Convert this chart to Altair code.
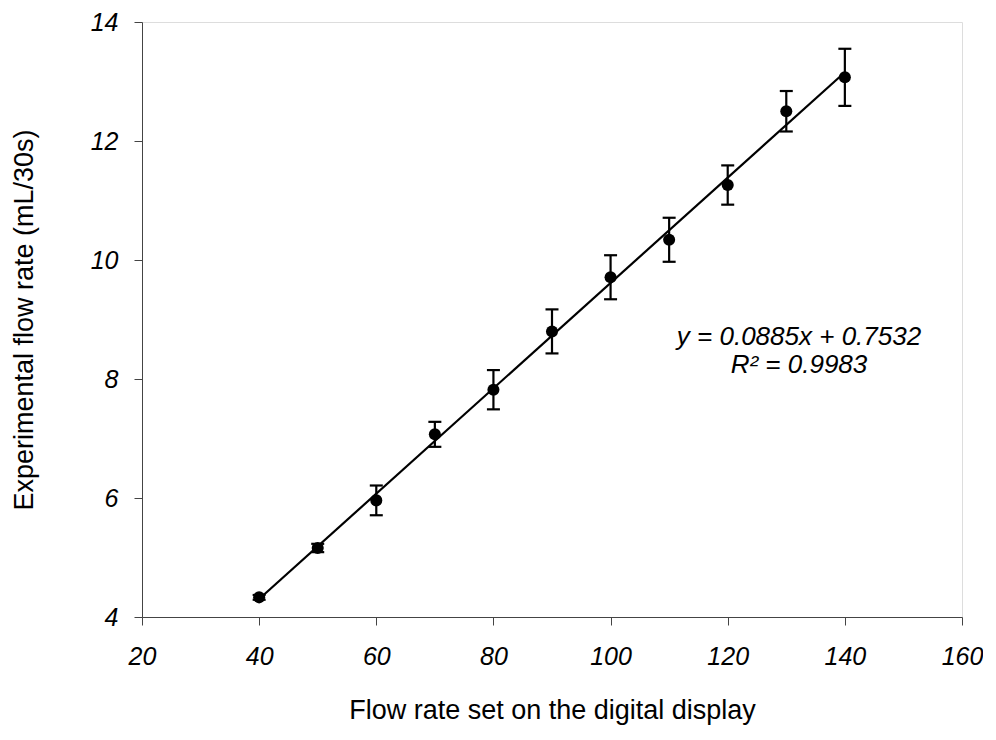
import altair as alt
import pandas as pd

# Data
flow_set = [40, 50, 60, 70, 80, 90, 100, 110, 120, 130, 140]
flow_exp = [4.33, 5.16, 5.96, 7.07, 7.82, 8.80, 9.71, 10.34, 11.26, 12.50, 13.07]
flow_err = [0.04, 0.07, 0.25, 0.21, 0.33, 0.37, 0.37, 0.37, 0.33, 0.34, 0.48]

x_ticks = [20, 40, 60, 80, 100, 120, 140, 160]
y_ticks = [4, 6, 8, 10, 12, 14]

eq_lines = ["y = 0.0885x + 0.7532", "R² = 0.9983"]

df = pd.DataFrame({"x": flow_set, "y": flow_exp, "e": flow_err})
df["lo"] = df["y"] - df["e"]
df["hi"] = df["y"] + df["e"]

FONT = "Liberation Sans"

xs = alt.Scale(domain=[20, 160], nice=False, zero=False)
ys = alt.Scale(domain=[4, 14], nice=False, zero=False)

x_axis = alt.Axis(values=x_ticks, format="d", title="Flow rate set on the digital display",
                  grid=False, tickSize=8, labelPadding=19, titlePadding=28,
                  labelFontSize=25, labelFontStyle="italic", titleFontSize=27,
                  titleFontWeight="normal", labelFont=FONT, titleFont=FONT,
                  domainColor="#444", tickColor="#444", labelColor="black",
                  titleColor="black", labelFlush=False)
y_axis = alt.Axis(values=y_ticks, format="d", title="Experimental flow rate (mL/30s)",
                  grid=False, tickSize=8, labelPadding=16, titlePadding=52,
                  labelFontSize=25, labelFontStyle="italic", titleFontSize=27,
                  titleFontWeight="normal", labelFont=FONT, titleFont=FONT,
                  domainColor="#444", tickColor="#444", labelColor="black",
                  titleColor="black", labelFlush=False)

X = alt.X("x:Q", scale=xs, axis=x_axis)

base = alt.Chart(df)

fit = base.transform_regression("x", "y", method="linear").mark_line(
    color="black", strokeWidth=2.2
).encode(x=X, y=alt.Y("y:Q", scale=ys, axis=y_axis))

bars = base.mark_rule(color="black", strokeWidth=2.2).encode(
    x=X, y=alt.Y("lo:Q", scale=ys, axis=y_axis), y2="hi:Q")

caps_lo = base.mark_tick(color="black", opacity=1, thickness=2.2, size=13, orient="horizontal").encode(
    x=X, y=alt.Y("lo:Q", scale=ys, axis=y_axis))
caps_hi = base.mark_tick(color="black", opacity=1, thickness=2.2, size=13, orient="horizontal").encode(
    x=X, y=alt.Y("hi:Q", scale=ys, axis=y_axis))

pts = base.mark_circle(color="black", opacity=1, size=145).encode(
    x=X, y=alt.Y("y:Q", scale=ys, axis=y_axis))

eq_df = pd.DataFrame({"t": ["\n".join(eq_lines)]})
eq = alt.Chart(eq_df).mark_text(font=FONT, fontSize=26, fontStyle="italic",
                                color="black", align="center", baseline="middle",
                                lineBreak="\n", lineHeight=28).encode(
    text="t:N",
    x=alt.value(657),
    y=alt.value(315),
)

chart = alt.layer(fit, bars, caps_lo, caps_hi, pts, eq).properties(
    width=820, height=595,
    padding={"left": 2, "top": 2, "right": 0, "bottom": 6},
).configure_view(stroke="black", strokeWidth=2).configure(background="white")

chart.save("out.html", embed_options={"renderer": "svg", "actions": False})
